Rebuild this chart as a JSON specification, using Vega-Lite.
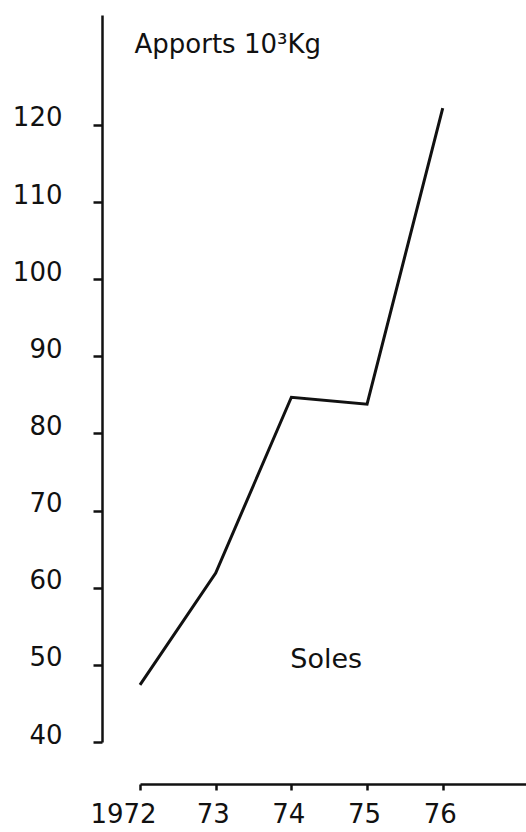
{
  "$schema": "https://vega.github.io/schema/vega-lite/v6.json",
  "width": 386,
  "height": 727,
  "autosize": {"type": "none"},
  "padding": {"left": 140, "top": 15, "right": 0, "bottom": 90},
  "background": "white",
  "config": {
    "view": {"stroke": null},
    "font": "DejaVu Sans",
    "axis": {"grid": false, "domainColor": "#111", "tickColor": "#111", "labelColor": "#111", "titleColor": "#111", "domainWidth": 2.5, "tickWidth": 2.5, "labelFontSize": 26, "labelFont": "DejaVu Sans"}
  },
  "data": {
    "values": [
      {"year": 1972, "apports": 47.4},
      {"year": 1973, "apports": 61.9},
      {"year": 1974, "apports": 84.7},
      {"year": 1975, "apports": 83.8},
      {"year": 1976, "apports": 122.2}
    ]
  },
  "layer": [
    {
      "mark": {"type": "line", "color": "#111", "strokeWidth": 3, "strokeJoin": "miter"},
      "encoding": {
        "x": {
          "field": "year",
          "type": "quantitative",
          "scale": {"domain": [1972, 1977.1], "nice": false, "zero": false},
          "axis": {
            "values": [1972, 1973, 1974, 1975, 1976],
            "labelExpr": "datum.value == 1972 ? '1972' : substring(toString(datum.value), 2)",
            "offset": 42,
            "tickSize": 6,
            "labelPadding": 32,
            "labelBaseline": "alphabetic",
            "labelOffset": {"condition": {"test": "datum.value == 1972", "value": -17}, "value": -3},
            "labelFlush": false,
            "title": null
          }
        },
        "y": {
          "field": "apports",
          "type": "quantitative",
          "scale": {"domain": [40, 134.26], "nice": false, "zero": false},
          "axis": {
            "values": [40, 50, 60, 70, 80, 90, 100, 110, 120],
            "offset": 38,
            "tickSize": 9,
            "labelPadding": 31,
            "labelBaseline": "alphabetic",
            "labelOffset": 1,
            "labelFlush": false,
            "title": "Apports 10³Kg",
            "titleAngle": 0,
            "titleAlign": "left",
            "titleBaseline": "alphabetic",
            "titleX": 32,
            "titleY": 37,
            "titleFontSize": 26,
            "titleFontWeight": "normal",
            "titleFont": "DejaVu Sans"
          }
        }
      }
    },
    {
      "data": {"values": [{"label": "Soles"}]},
      "mark": {"type": "text", "fontSize": 27, "color": "#111", "align": "center", "baseline": "alphabetic", "font": "DejaVu Sans"},
      "encoding": {
        "x": {"datum": 1974.46, "type": "quantitative"},
        "y": {"datum": 49.6, "type": "quantitative"},
        "text": {"field": "label"}
      }
    }
  ]
}
